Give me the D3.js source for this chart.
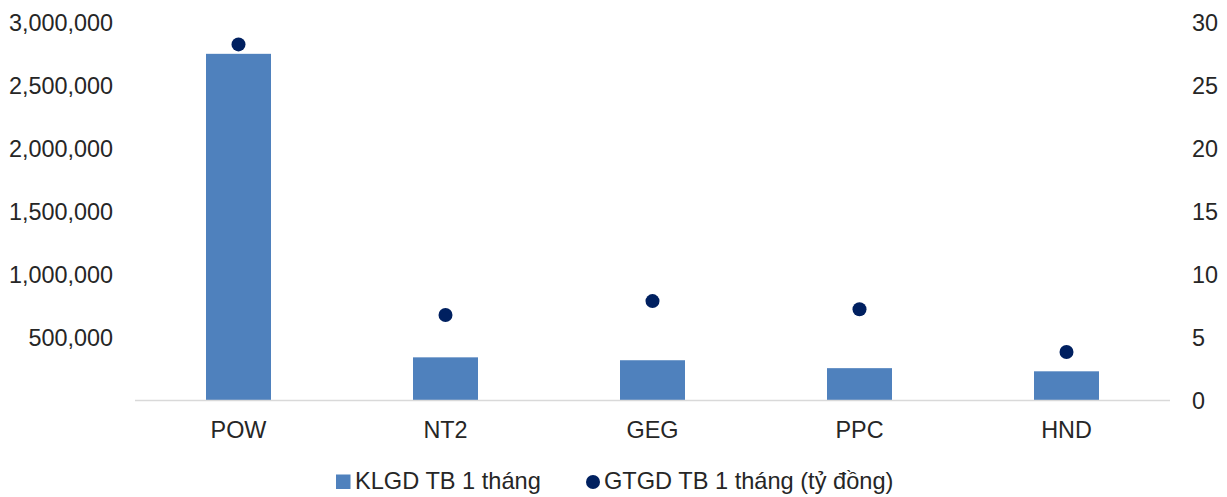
<!DOCTYPE html>
<html><head><meta charset="utf-8">
<script src="https://cdn.jsdelivr.net/npm/d3@7"></script>
<style>body{margin:0;background:#fff}svg{display:block}text{font-family:"Liberation Sans",Arial,sans-serif;fill:#262626}</style>
</head><body><svg id="c" width="1227" height="497"></svg>
<script>
const categories = ["POW","NT2","GEG","PPC","HND"];
const volume = [2755000, 343000, 320000, 257000, 232000];
const value = [28.3, 6.8, 7.9, 7.25, 3.85];
const leftTicks = [500000,1000000,1500000,2000000,2500000,3000000];
const rightTicks = [0,5,10,15,20,25,30];
const seriesNames = ["KLGD TB 1 tháng","GTGD TB 1 tháng (tỷ đồng)"];

const svg = d3.select("#c");
const x0 = 135, x1 = 1170, yTop = 23, yBase = 400.5;
const x = d3.scaleBand().domain(categories).range([x0, x1]).paddingInner(0.686).paddingOuter(0.343);
const yL = d3.scaleLinear().domain([0,3000000]).range([yBase, yTop]);
const yR = d3.scaleLinear().domain([0,30]).range([yBase, yTop]);

svg.append("g").selectAll("rect").data(volume).join("rect")
  .attr("x",(d,i)=>x(categories[i])).attr("width",x.bandwidth())
  .attr("y",d=>yL(d)).attr("height",d=>yBase-yL(d)).attr("fill","#4f81bd");

svg.append("line").attr("x1",x0).attr("x2",x1).attr("y1",yBase).attr("y2",yBase)
  .attr("stroke","#d9d9d9").attr("stroke-width",1.3);

svg.append("g").selectAll("circle").data(value).join("circle")
  .attr("cx",(d,i)=>x(categories[i])+x.bandwidth()/2).attr("cy",d=>yR(d)).attr("r",7).attr("fill","#002060");

const fmt = d3.format(",");
const gl = svg.append("g").attr("transform","translate(113,0)")
  .call(d3.axisLeft(yL).tickValues(leftTicks).tickFormat(fmt).tickSize(0).tickPadding(0));
const gr = svg.append("g").attr("transform","translate(1192,0)")
  .call(d3.axisRight(yR).tickValues(rightTicks).tickSize(0).tickPadding(0));
const gx = svg.append("g").attr("transform",`translate(0,${yBase})`)
  .call(d3.axisBottom(x).tickSize(0).tickPadding(21));
[gl,gr,gx].forEach(g=>{g.select(".domain").remove();g.selectAll("text").style("font-size","23.4px").attr("fill","#262626").style("font-family","'Liberation Sans',Arial,sans-serif");});

const lg = svg.append("g");
lg.append("rect").attr("x",336).attr("y",474.5).attr("width",14.5).attr("height",14.5).attr("fill","#4f81bd");
lg.append("text").attr("x",355).attr("y",489).style("font-size","23.6px").text(seriesNames[0]);
lg.append("circle").attr("cx",593).attr("cy",482).attr("r",7).attr("fill","#002060");
lg.append("text").attr("x",604).attr("y",489).style("font-size","23.6px").text(seriesNames[1]);
</script></body></html>
